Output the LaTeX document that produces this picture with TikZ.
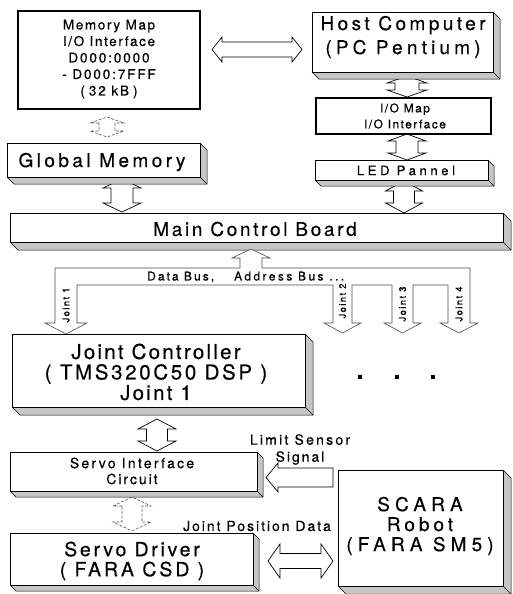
\documentclass[tikz,border=0pt]{standalone}
\usepackage{fontspec}
\setmainfont{TeX Gyre Heros}[FakeBold=0.35]
\newcommand\ls[2]{{\addfontfeature{LetterSpace=#1}#2}}
\newcommand\fsz[2]{\fontsize{#1}{#2}\selectfont}
\tikzset{
  face/.style={fill=gray!45},
  edge3d/.style={draw=black, line width=0.5pt},
  frontbox/.style={draw=black, fill=white, line width=0.7pt, inner sep=0pt, anchor=north west},
  thickbox/.style={draw=black, fill=white, line width=1.8pt, inner sep=0pt, anchor=north west},
  txt/.style={inner sep=0pt, align=center},
  barrow/.style={draw=black, fill=white, line width=0.7pt, line join=miter},
  farrow/.style={draw=black!65, fill=white, line width=0.6pt, dash pattern=on 3pt off 1.5pt},
  busline/.style={draw=black!70, fill=white, line width=0.6pt, line join=miter},
  dotsq/.style={fill=black, inner sep=0pt, minimum size=4pt},
}
% 3D box: name, x1, y1, x2, y2, depth
\newcommand\tdbox[6]{%
  \fill[face] (#4,#3) -- ({#4+#6},{#3+#6}) -- ({#4+#6},{#5+#6}) -- ({#2+#6},{#5+#6}) -- (#2,#5) -- (#4,#5) -- cycle;
  \draw[edge3d] (#4,#3) -- ({#4+#6},{#3+#6}) -- ({#4+#6},{#5+#6}) -- ({#2+#6},{#5+#6}) -- (#2,#5);
  \draw[edge3d] (#4,#5) -- ({#4+#6},{#5+#6});
  \node[frontbox, minimum width={#4-#2}, minimum height={#5-#3}] (#1) at (#2,#3) {};
}
% vertical double block arrow: style, cx, ytop, ybot, shaft half, head half, head length
\newcommand\vdarr[7]{%
  \draw[#1] ({#2-#5},{#3+#7}) -- ({#2-#6},{#3+#7}) -- (#2,#3) -- ({#2+#6},{#3+#7}) -- ({#2+#5},{#3+#7})
   -- ({#2+#5},{#4-#7}) -- ({#2+#6},{#4-#7}) -- (#2,#4) -- ({#2-#6},{#4-#7}) -- ({#2-#5},{#4-#7}) -- cycle;}
% horizontal double block arrow: style, cy, xleft, xright, shaft half, head half, head length
\newcommand\hdarr[7]{%
  \draw[#1] ({#3+#7},{#2-#5}) -- ({#3+#7},{#2-#6}) -- (#3,#2) -- ({#3+#7},{#2+#6}) -- ({#3+#7},{#2+#5})
   -- ({#4-#7},{#2+#5}) -- ({#4-#7},{#2+#6}) -- (#4,#2) -- ({#4-#7},{#2-#6}) -- ({#4-#7},{#2-#5}) -- cycle;}
\begin{document}
\begin{tikzpicture}[x=1pt,y=-1pt]
\useasboundingbox (0,0) rectangle (512,594);
\fill[white] (0,0) rectangle (512,594);

% arrows lying behind boxes
\vdarr{barrow}{122}{179}{212}{11}{19}{9}
\vdarr{barrow}{404}{181}{213}{10.5}{18.5}{10}
\vdarr{barrow}{407}{76}{97}{12}{20}{7}
\vdarr{barrow}{407}{134}{160}{11}{19}{7}
\vdarr{farrow}{107}{117}{137}{8}{17}{6}
\hdarr{barrow}{49.5}{212}{302}{7.5}{12.5}{10}

% boxes
\node[thickbox, minimum width=182, minimum height=98] (mm) at (17,10) {};
\node[txt, font=\fsz{13.5}{16.5}] (mmt) at (109,59) {\ls{12}{Memory Map}\\\ls{12}{I/O Interface}\\\ls{14}{D000:0000}\\\ls{14}{- D000:7FFF}\\\ls{14}{(\hspace{4pt}32 kB\hspace{4pt})}};

\tdbox{host}{312}{12}{493}{72}{7}
\node[txt, font=\fsz{19}{24}] (hostt) at (403,37) {\ls{18}{Host Computer}\\\ls{22}{(PC Pentium)}};

\node[thickbox, minimum width=175, minimum height=36] (iom) at (315,97) {};
\node[txt, font=\fsz{12}{16}] (iomt) at (405,116) {\ls{12}{I/O Map}\\\ls{12}{I/O Interface}};

\tdbox{led}{315}{160}{488}{180}{6}
\node[txt, font=\fsz{13}{13}] (ledt) at (406,170.5) {\ls{28}{LED Pannel}};

\tdbox{gm}{7}{143}{200}{177}{7}
\node[txt, font=\fsz{19}{20}] (gmt) at (102,162) {\ls{18}{Global Memory}};

\tdbox{mcb}{10}{213}{503}{242}{8}
\node[txt, font=\fsz{19}{20}] (mcbt) at (255,229) {\ls{14}{Main Control Board}};

% bus
\draw[busline] (240,258) -- (240,268) -- (55,268) -- (55,323) -- (45,323) -- (66,334) -- (87,323) -- (77,323)
  -- (77,285) -- (333,285) -- (333,323) -- (324,323) -- (342.5,333) -- (361,323) -- (352,323)
  -- (352,285) -- (392,285) -- (392,323) -- (384,323) -- (402.5,333) -- (421,323) -- (413,323)
  -- (413,285) -- (448,285) -- (448,323) -- (440,323) -- (459,333) -- (478,323) -- (470,323)
  -- (470,268) -- (262,268) -- (262,258) -- (270,258) -- (251,249) -- (232,258) -- cycle;
\node[txt, font=\fsz{12}{13}, anchor=west] (busl) at (147,277) {\ls{17}{Data Bus,}\hspace{20pt}\ls{20}{Address Bus ...}};
\node[txt, font=\fsz{9.5}{10}, rotate=90] (j1) at (66,305) {\ls{15}{Joint 1}};
\node[txt, font=\fsz{9.5}{10}, rotate=90] (j2) at (342.5,301) {\ls{15}{Joint 2}};
\node[txt, font=\fsz{9.5}{10}, rotate=90] (j3) at (402.5,304) {\ls{15}{Joint 3}};
\node[txt, font=\fsz{9.5}{10}, rotate=90] (j4) at (459,304) {\ls{15}{Joint 4}};

% joint controller
\tdbox{jc}{12}{334}{305}{407}{8}
\node[txt, font=\fsz{20.5}{20.5}] (jct) at (156,372) {\ls{11}{Joint Controller}\\\ls{13}{( TMS320C50 DSP )}\\\ls{11}{Joint 1}};
\node[dotsq] (d1) at (360,377) {};
\node[dotsq] (d2) at (397,377) {};
\node[dotsq] (d3) at (433,377) {};

% lower part
\vdarr{barrow}{157}{419}{451}{10.5}{19}{10}
\vdarr{farrow}{132}{497}{531}{10}{19}{9}

\tdbox{si}{10}{452}{257}{491}{6}
\node[txt, font=\fsz{14}{16}] (sit) at (132,471) {\ls{16}{Servo Interface}\\\ls{14}{Circuit}};

\node[txt, font=\fsz{14}{17}] (lss) at (300,449.5) {\ls{16}{Limit Sensor}\\\ls{14}{Signal}};

\tdbox{scara}{338}{470}{503}{586}{8}
\node[txt, font=\fsz{19}{20}] (scarat) at (420,526) {\ls{27}{SCARA}\\\ls{21}{Robot}\\\ls{27}{(FARA SM5)}};

% left arrow from SCARA to servo interface
\draw[barrow] (333,468) -- (278,468) -- (278,463) -- (266,477.5) -- (278,492) -- (278,487) -- (333,487) -- cycle;

\node[txt, font=\fsz{14}{14}] (jpd) at (257,526) {\ls{14}{Joint Position Data}};

\tdbox{sd}{10}{533}{253}{585}{6}
\node[txt, font=\fsz{19.5}{20}] (sdt) at (132,561) {\ls{14}{Servo Driver}\\\ls{15}{( FARA CSD )}};

\hdarr{barrow}{561}{268}{333}{7.5}{17}{12}
\end{tikzpicture}
\end{document}
